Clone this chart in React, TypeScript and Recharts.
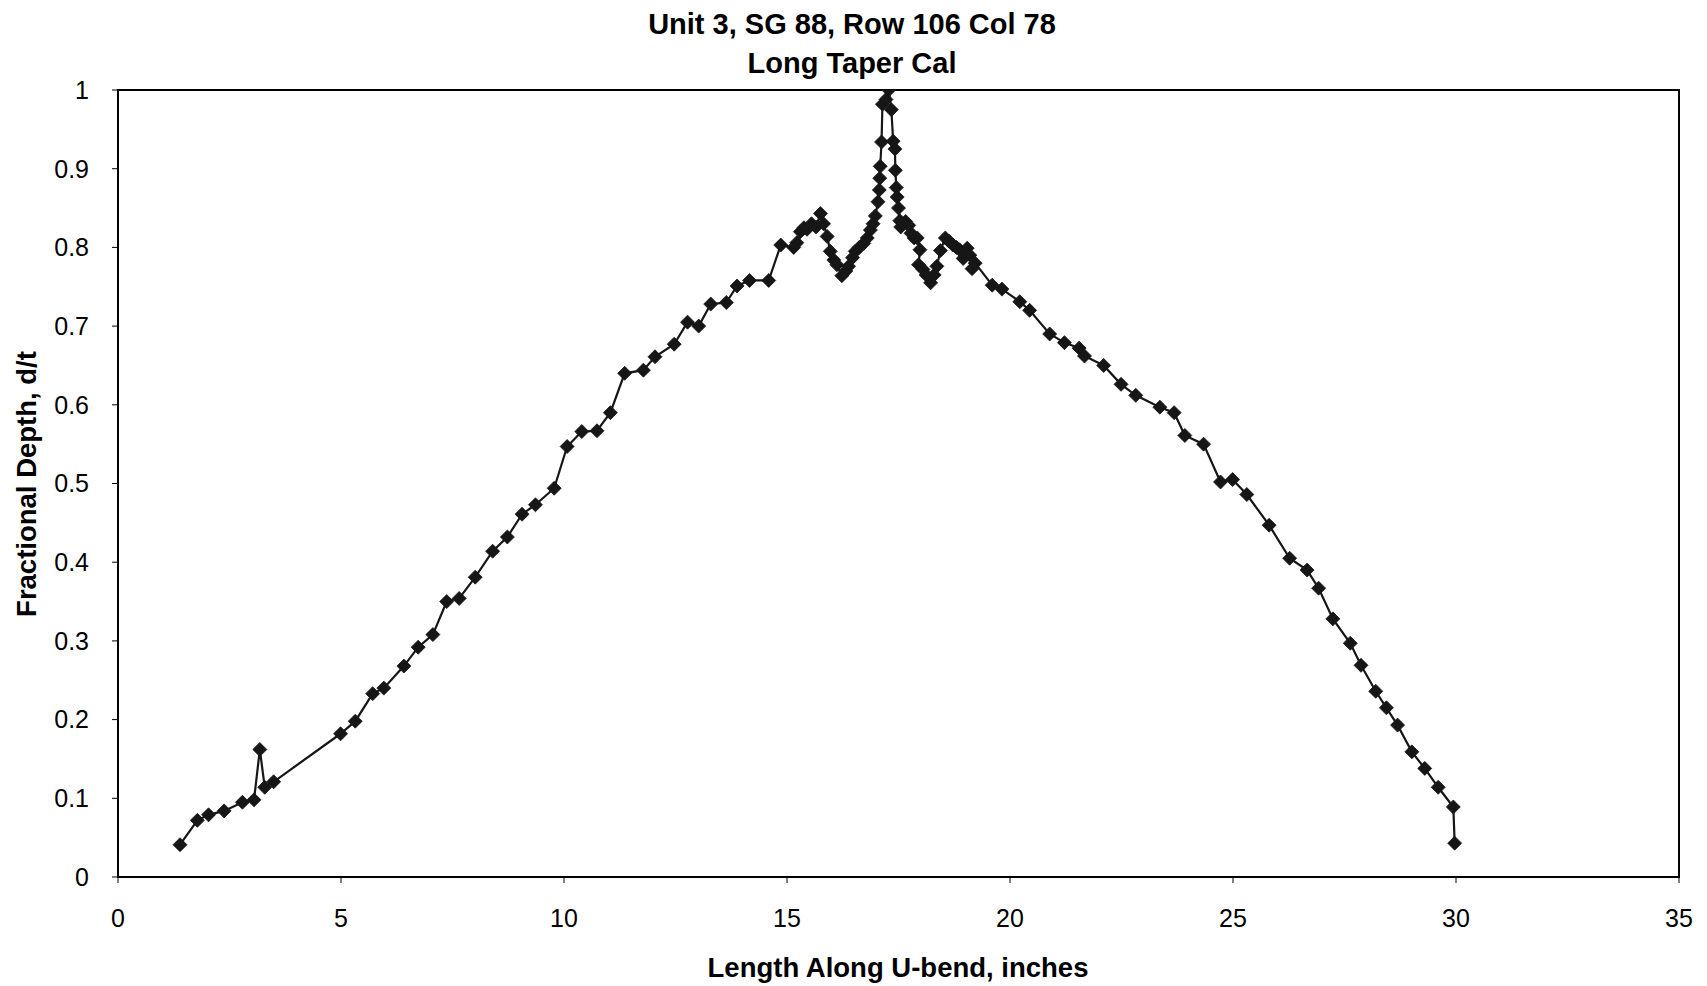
import React from "react";
import { LineChart, Line, XAxis, YAxis, ReferenceArea } from "recharts";

const titleLines = ["Unit 3, SG 88, Row 106 Col 78", "Long Taper Cal"];
const xAxisTitle = "Length Along U-bend, inches";
const yAxisTitle = "Fractional Depth, d/t";

const xTicks = [0, 5, 10, 15, 20, 25, 30, 35];
const yTicks = [0, 0.1, 0.2, 0.3, 0.4, 0.5, 0.6, 0.7, 0.8, 0.9, 1];

const lengthInches = [
  1.39, 1.78, 2.03, 2.38, 2.79, 3.05, 3.18, 3.29, 3.49, 4.99,
  5.32, 5.71, 5.96, 6.41, 6.73, 7.06, 7.37, 7.65, 8.01, 8.4,
  8.73, 9.06, 9.36, 9.78, 10.07, 10.4, 10.74, 11.04, 11.36, 11.78,
  12.04, 12.47, 12.77, 13.02, 13.29, 13.64, 13.88, 14.16, 14.59, 14.86,
  15.15, 15.22, 15.3, 15.38, 15.45, 15.55, 15.65, 15.75, 15.82, 15.9,
  15.97, 16.05, 16.12, 16.23, 16.32, 16.38, 16.47, 16.53, 16.62, 16.72,
  16.8, 16.87, 16.93, 16.98, 17.04, 17.07, 17.08, 17.09, 17.12, 17.14,
  17.22, 17.28, 17.34, 17.38, 17.42, 17.43, 17.45, 17.47, 17.5, 17.53,
  17.55, 17.66, 17.73, 17.78, 17.85, 17.92, 17.98, 17.95, 18.05, 18.12,
  18.22, 18.3, 18.36, 18.44, 18.55, 18.63, 18.72, 18.8, 18.87, 18.95,
  19.04, 19.1, 19.15, 19.22, 19.6, 19.82, 20.22, 20.44, 20.89, 21.22,
  21.55, 21.67, 22.1, 22.49, 22.82, 23.36, 23.68, 23.92, 24.34, 24.72,
  24.99, 25.31, 25.81, 26.27, 26.66, 26.92, 27.24, 27.63, 27.87, 28.2,
  28.44, 28.69, 29.01, 29.3, 29.6, 29.94, 29.97,
];

const fractionalDepth = [
  0.041, 0.072, 0.079, 0.084, 0.095, 0.098, 0.162, 0.114, 0.121, 0.182,
  0.198, 0.233, 0.24, 0.268, 0.292, 0.308, 0.35, 0.354, 0.381, 0.414,
  0.432, 0.461, 0.473, 0.494, 0.547, 0.566, 0.567, 0.59, 0.64, 0.644,
  0.661, 0.677, 0.705, 0.7, 0.728, 0.73, 0.751, 0.758, 0.758, 0.803,
  0.8, 0.806, 0.82, 0.825, 0.823, 0.83, 0.826, 0.843, 0.83, 0.814,
  0.795, 0.784, 0.778, 0.764, 0.77, 0.776, 0.787, 0.795, 0.8, 0.805,
  0.812, 0.822, 0.83, 0.84, 0.858, 0.873, 0.888, 0.903, 0.934, 0.982,
  0.988, 1.0, 0.975, 0.935, 0.925, 0.898, 0.876, 0.864, 0.85, 0.834,
  0.826, 0.833, 0.828, 0.818, 0.812, 0.812, 0.797, 0.778, 0.772, 0.765,
  0.755, 0.765, 0.776, 0.796, 0.812, 0.808, 0.803, 0.8, 0.797, 0.786,
  0.799, 0.79, 0.773, 0.78, 0.752, 0.747, 0.731, 0.72, 0.69, 0.679,
  0.672, 0.662, 0.65, 0.626, 0.612, 0.597, 0.59, 0.561, 0.55, 0.502,
  0.505, 0.486, 0.447, 0.405, 0.39, 0.367, 0.328, 0.297, 0.269, 0.236,
  0.215, 0.193, 0.159, 0.138, 0.114, 0.089, 0.043,
];

const data = lengthInches.map((x, i) => ({ x, y: fractionalDepth[i] }));

const FONT = '"Liberation Sans", Arial, sans-serif';
const INK = "#161616";

const Diamond = (props: any) => {
  const { cx, cy, index } = props;
  if (cx == null || cy == null) return null;
  const r = 7;
  return (
    <path
      key={`d-${index}`}
      d={`M${cx},${cy - r}L${cx + r},${cy}L${cx},${cy + r}L${cx - r},${cy}Z`}
      fill={INK}
      stroke={INK}
      strokeWidth={0.8}
    />
  );
};

export default function App() {
  const W = 1707;
  const H = 986;
  return (
    <div
      style={{
        position: "absolute",
        left: 0,
        top: 0,
        width: W,
        height: H,
        background: "#fff",
        fontFamily: FONT,
        overflow: "hidden",
      }}
    >
      <LineChart
        width={W}
        height={H}
        data={data}
        margin={{ top: 90, right: 28, bottom: 49, left: 18 }}
      >
        <XAxis
          type="number"
          dataKey="x"
          domain={[0, 35]}
          ticks={xTicks}
          allowDataOverflow
          height={60}
          axisLine={{ stroke: "#000", strokeWidth: 2 }}
          tickLine={{ stroke: "#000", strokeWidth: 1 }}
          tickSize={6}
          tickMargin={26}
          tick={{ fill: "#000", fontSize: 25, fontFamily: FONT }}
        />
        <YAxis
          type="number"
          domain={[0, 1]}
          ticks={yTicks}
          allowDataOverflow
          width={100}
          axisLine={{ stroke: "#000", strokeWidth: 2 }}
          tickLine={{ stroke: "#000", strokeWidth: 1 }}
          tickSize={6}
          tickMargin={23}
          tick={{ fill: "#000", fontSize: 25, fontFamily: FONT }}
          tickFormatter={(v: number) => String(Math.round(v * 10) / 10)}
        />
        <ReferenceArea
          x1={0}
          x2={35}
          y1={0}
          y2={1}
          fill="none"
          fillOpacity={0}
          stroke="#000"
          strokeWidth={2}
          strokeOpacity={1}
        />
        <Line
          type="linear"
          dataKey="y"
          stroke={INK}
          strokeWidth={2.2}
          dot={<Diamond />}
          activeDot={false}
          isAnimationActive={false}
        />
      </LineChart>

      {titleLines.map((t, i) => (
        <div
          key={t}
          style={{
            position: "absolute",
            left: 852,
            top: i === 0 ? 24 : 63,
            transform: "translate(-50%, -50%)",
            fontSize: 29,
            fontWeight: "bold",
            color: "#000",
            whiteSpace: "nowrap",
            lineHeight: 1,
          }}
        >
          {t}
        </div>
      ))}
      <div
        style={{
          position: "absolute",
          left: 898,
          top: 968,
          transform: "translate(-50%, -50%)",
          fontSize: 27.5,
          fontWeight: "bold",
          color: "#000",
          whiteSpace: "nowrap",
          lineHeight: 1,
        }}
      >
        {xAxisTitle}
      </div>
      <div
        style={{
          position: "absolute",
          left: 27,
          top: 484,
          transform: "translate(-50%, -50%) rotate(-90deg)",
          fontSize: 27.5,
          fontWeight: "bold",
          color: "#000",
          whiteSpace: "nowrap",
          lineHeight: 1,
        }}
      >
        {yAxisTitle}
      </div>
    </div>
  );
}
